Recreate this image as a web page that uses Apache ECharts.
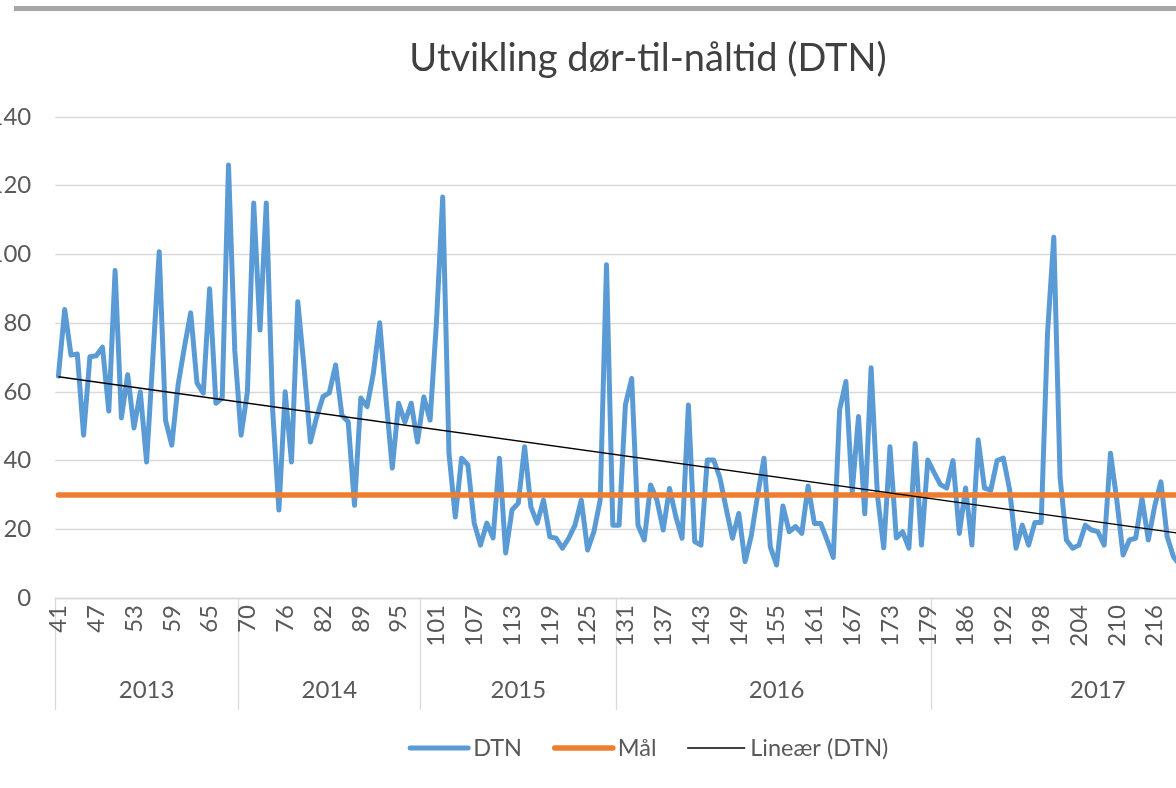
<!DOCTYPE html>
<html>
<head>
<meta charset="utf-8">
<script src="https://cdn.jsdelivr.net/npm/echarts@6/dist/echarts.min.js"></script>
<style>
html, body { margin: 0; padding: 0; overflow: hidden; background: #fff; }
#container { width: 1296px; height: 788px; }
</style>
</head>
<body>
<div id="container"></div>
<script>
// DTN (minutter) per pasient, lest av bildet
var dtn = [
  64.6, 84, 70.7, 71, 47.4, 70.2, 70.5, 73, 54.4, 95.3,
  52.4, 65, 49.5, 60, 39.6, 70, 100.8, 51.8, 44.5, 62,
  73, 83, 62.6, 59.6, 90, 56.7, 58.2, 126, 72, 47.4,
  60, 115, 78, 115, 55, 25.6, 60, 39.6, 86.2, 67,
  45.4, 52.7, 58.6, 59.7, 67.8, 53.2, 51.3, 27, 58.2, 55.7,
  65.5, 80.1, 58, 37.8, 56.7, 51.2, 56.7, 45.4, 58.5, 51.8,
  80, 116.7, 42, 23.6, 40.7, 38.7, 21.8, 15.4, 21.8, 17.5,
  40.7, 13.1, 25.6, 27.6, 44, 26.5, 21.8, 28.5, 17.8, 17.4,
  14.5, 17.4, 21.2, 28.5, 14, 19.3, 28.5, 97, 21.2, 21.2,
  56.2, 63.9, 21.2, 16.9, 32.9, 28.5, 19.8, 31.9, 23.7, 17.4,
  56.2, 16.4, 15.4, 40.2, 40.2, 35, 26, 17.4, 24.6, 10.6,
  18.3, 30, 40.7, 14.9, 9.6, 26.8, 19.3, 20.8, 18.8, 32.6,
  21.7, 21.7, 16.9, 11.8, 54.7, 63, 31, 52.8, 24.5, 67,
  30, 14.6, 44, 17.5, 19.3, 14.5, 45, 15.4, 40.2, 36.5,
  33, 32, 40, 18.8, 32, 15.4, 46, 32, 31.4, 40,
  40.7, 31.4, 14.5, 21.2, 15.4, 22, 22, 77, 105, 35,
  16.9, 14.5, 15.4, 21.2, 19.8, 19.3, 15.4, 42.1, 28.5, 12.5,
  16.9, 17.4, 29, 16.9, 26.6, 33.8, 17.8, 12, 9.6
];
var goal = 30;
// lineær trend: verdi ved første og siste synlige punkt
var trendEnds = [64.4, 18.8];
// pasientnummer som vises på aksen (hvert 6. punkt)
var caseLabels = [41, 47, 53, 59, 65, 70, 76, 82, 89, 95, 101, 107, 113, 119, 125,
                  131, 137, 143, 149, 155, 161, 167, 173, 179, 186, 192, 198, 204, 210, 216];
var years = ['2013', '2014', '2015', '2016', '2017'];
var yearCounts = [29, 29, 31, 50, 53];

var labelStep = 6;
var total = 0;
var yearStart = [];
var yearMid = [];
yearCounts.forEach(function (n) {
    yearStart.push(total);
    yearMid.push(total + Math.floor(n / 2));
    total += n;
});
var cats = [];
for (var i = 0; i < total; i++) cats.push(String(i));

var goalLine = cats.map(function () { return goal; });
var trendLine = cats.map(function () { return null; });
trendLine[0] = trendEnds[0];
trendLine[dtn.length - 1] = trendEnds[1];

var font = 'Lato';
var grey = '#595959';
var gridColor = '#d9d9d9';
var blue = '#5b9bd5', orange = '#ed7d31';

var dom = document.getElementById('container');
var myChart = echarts.init(dom, null, { renderer: 'canvas' });
var option = {
    animation: false,
    backgroundColor: '#fff',
    title: {
        text: 'Utvikling dør-til-nåltid (DTN)',
        left: 'center',
        top: 35,
        textStyle: { fontFamily: font, fontSize: 38, fontWeight: 'normal', color: '#404040' }
    },
    legend: {
        data: [
            { name: 'DTN', lineStyle: { width: 5, cap: 'round', color: blue } },
            { name: 'Mål', lineStyle: { width: 5.5, cap: 'round', color: orange } },
            { name: 'Lineær (DTN)', lineStyle: { width: 1.4, color: '#000' } }
        ],
        left: 'center',
        top: 731,
        itemWidth: 58,
        itemHeight: 26,
        itemGap: 30,
        itemStyle: { opacity: 0 },
        textStyle: { fontFamily: font, fontSize: 23.5, color: grey }
    },
    graphic: [{
        type: 'rect',
        left: 14, top: 6,
        shape: { width: 1400, height: 5 },
        style: { fill: '#a6a6a6' }
    }],
    grid: { left: 55.25, top: 117, width: total * 6.3, height: 481, outerBoundsMode: 'none', containLabel: false },
    xAxis: [{
        type: 'category',
        data: cats,
        boundaryGap: true,
        axisLine: { lineStyle: { color: gridColor, width: 1.3 } },
        axisTick: { show: false },
        axisLabel: {
            rotate: 90,
            margin: 7,
            fontFamily: font,
            fontSize: 24,
            color: grey,
            interval: function (idx) { return idx % labelStep === 0 && idx / labelStep < caseLabels.length; },
            formatter: function (v, idx) { return String(caseLabels[idx / labelStep]); }
        },
        splitLine: { show: false }
    }, {
        type: 'category',
        data: cats,
        boundaryGap: true,
        position: 'bottom',
        axisLine: { show: false },
        axisTick: {
            show: true,
            length: 112,
            interval: function (idx) { return yearStart.indexOf(idx) >= 0; },
            lineStyle: { color: gridColor, width: 1.3 }
        },
        axisLabel: {
            margin: 80,
            fontFamily: font,
            fontSize: 24,
            color: grey,
            interval: function (idx) { return yearMid.indexOf(idx) >= 0; },
            formatter: function (v, idx) { return years[yearMid.indexOf(idx)]; }
        },
        splitLine: { show: false }
    }],
    yAxis: {
        type: 'value',
        min: 0,
        max: 140,
        interval: 20,
        axisLine: { show: false },
        axisTick: { show: false },
        axisLabel: { margin: 24, fontFamily: font, fontSize: 24, color: grey },
        splitLine: { lineStyle: { color: gridColor, width: 1.3 } }
    },
    series: [
        {
            name: 'DTN',
            type: 'line',
            data: dtn,
            symbol: 'none',
            z: 2,
            color: blue,
            lineStyle: { color: blue, width: 5, cap: 'round', join: 'round' }
        },
        {
            name: 'Mål',
            type: 'line',
            data: goalLine,
            symbol: 'none',
            z: 3,
            color: orange,
            lineStyle: { color: orange, width: 5.5, cap: 'round' }
        },
        {
            name: 'Lineær (DTN)',
            type: 'line',
            data: trendLine,
            connectNulls: true,
            symbol: 'none',
            z: 4,
            color: '#000',
            lineStyle: { color: '#000', width: 1.4 }
        }
    ]
};
if (option && typeof option === "object") {
    myChart.setOption(option, true);
}
</script>
</body>
</html>
